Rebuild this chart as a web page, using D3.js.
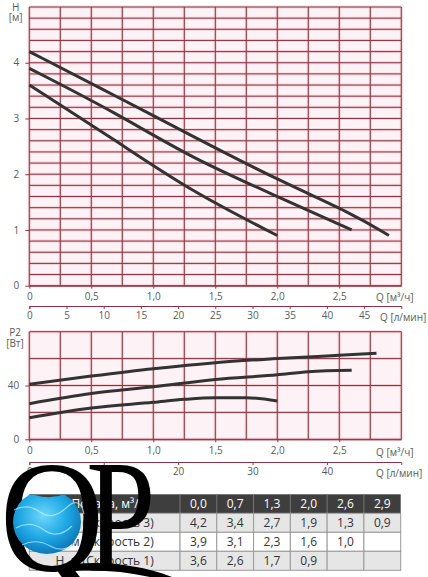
<!DOCTYPE html>
<html>
<head>
<meta charset="utf-8">
<script src="https://cdn.jsdelivr.net/npm/d3@7"></script>
<style>
  body { margin: 0; background: #fff; }
  svg { display: block; font-family: "Open Sans", sans-serif; }
</style>
</head>
<body>
<svg id="chart" width="428" height="577"></svg>
<script>
// table / head curves (m3/h -> m)
const flowTable = [0.0, 0.7, 1.3, 2.0, 2.6, 2.9];
const head3 = [4.2, 3.4, 2.7, 1.9, 1.3, 0.9];
const head2 = [3.9, 3.1, 2.3, 1.6, 1.0, null];
const head1 = [3.6, 2.6, 1.7, 0.9, null, null];
const rowLabels = ["H, м (Скорость 3)", "H, м (Скорость 2)", "H, м (Скорость 1)"];
const headerLabel = "Подача, м³/ч";

// power curves (m3/h -> W)
const powerQ3 = [0, 0.5, 1.0, 1.5, 2.0, 2.5, 2.8];
const power3  = [41, 47, 52.5, 57, 60, 62.5, 64];
const powerQ2 = [0, 0.5, 1.0, 1.5, 2.0, 2.25, 2.6];
const power2  = [26.5, 34, 39, 44.5, 48, 50.3, 51.3];
const powerQ1 = [0, 0.5, 1.0, 1.25, 1.5, 1.75, 2.0];
const power1  = [16, 23.3, 27.5, 29.7, 30.9, 30.9, 28.5];

// ticks
const qTicks = [0, 0.5, 1.0, 1.5, 2.0, 2.5];
const lminTicksTop = [0, 5, 10, 15, 20, 25, 30, 35, 40, 45];
const lminTicksBottom = [0, 10, 20, 30, 40];
const headTicks = [0, 1, 2, 3, 4];
const powerTicks = [0, 40];

const gridCol = "#863540";
const glowCol = "#f1c3cd";
const plotBg = "#fdf3f6";
const textCol = "#5a5a5a";
const curveCol = "#333";

const svg = d3.select("#chart");
const left = 29.3, right = 401.3;

const x = d3.scaleLinear().domain([0, 3]).range([left, right]);
const xl = d3.scaleLinear().domain([0, 50]).range([left, right]);
const yH = d3.scaleLinear().domain([0, 5]).range([285.7, 7]);
const yP = d3.scaleLinear().domain([0, 80]).range([439.3, 331.7]);

const fmt = d => d === 0 ? "0" : d.toFixed(1).replace(".", ",");

function grid(y, xStep, yStep) {
  const [y0, y1] = y.domain();
  const g = svg.append("g");
  g.append("rect")
    .attr("x", left).attr("y", y(y1))
    .attr("width", right - left).attr("height", y(y0) - y(y1))
    .attr("fill", plotBg);
  const xs = d3.range(0, 3 + 1e-9, xStep);
  const ys = d3.range(y0, y1 + 1e-9, yStep);
  [[glowCol, 3, 0.7], [gridCol, 1, 1]].forEach(([c, w, o]) => {
    g.selectAll(null).data(xs).join("line")
      .attr("x1", d => x(d)).attr("x2", d => x(d))
      .attr("y1", y(y0)).attr("y2", y(y1))
      .attr("stroke", c).attr("stroke-width", w).attr("opacity", o);
    g.selectAll(null).data(ys).join("line")
      .attr("x1", left).attr("x2", right)
      .attr("y1", d => y(d)).attr("y2", d => y(d))
      .attr("stroke", c).attr("stroke-width", w).attr("opacity", o);
  });
}

function styleAxis(g) {
  g.selectAll(".domain, line").attr("stroke", gridCol);
  g.selectAll("text").attr("fill", textCol).attr("font-size", 10)
    .attr("font-family", "Open Sans");
}

function label(txt, xx, yy, anchor) {
  svg.append("text").attr("x", xx).attr("y", yy)
    .attr("text-anchor", anchor || "start")
    .attr("dominant-baseline", "central")
    .attr("fill", textCol).attr("font-size", 10)
    .text(txt);
}

function curve(qs, vs, y, kind) {
  const pts = qs.map((q, i) => [q, vs[i]]).filter(p => p[1] != null);
  svg.append("path")
    .attr("d", d3.line().x(d => x(d[0])).y(d => y(d[1])).curve(kind)(pts))
    .attr("fill", "none").attr("stroke", curveCol)
    .attr("stroke-width", 3).attr("stroke-linecap", "butt");
}

// ---- head chart
grid(yH, 0.25, 0.2);

svg.append("g").attr("transform", `translate(0,${yH(0)})`)
  .call(d3.axisBottom(x).tickValues(qTicks).tickFormat(fmt).tickSize(3).tickSizeOuter(0).tickPadding(4))
  .call(styleAxis);
svg.append("g").attr("transform", `translate(${left},0)`)
  .call(d3.axisLeft(yH).tickValues(headTicks).tickFormat(d3.format("d")).tickSize(4).tickPadding(6))
  .call(g => g.select(".domain").remove())
  .call(styleAxis);
svg.append("g").attr("transform", "translate(0,306)")
  .call(d3.axisBottom(xl).tickValues(lminTicksTop).tickSize(3).tickSizeOuter(3).tickPadding(3))
  .call(styleAxis);

label("H", 15.7, 6.5, "middle");
label("[м]", 15.7, 16.7, "middle");
label("Q [м³/ч]", 376, 296.7);
label("Q [л/мин]", 380, 316.7);

curve(flowTable, head3, yH, d3.curveBasis);
curve(flowTable, head2, yH, d3.curveBasis);
curve(flowTable, head1, yH, d3.curveBasis);

// ---- power chart
grid(yP, 0.25, 20);

svg.append("g").attr("transform", `translate(0,${yP(0)})`)
  .call(d3.axisBottom(x).tickValues(qTicks).tickFormat(fmt).tickSize(3).tickSizeOuter(0).tickPadding(5))
  .call(styleAxis);
svg.append("g").attr("transform", `translate(${left},0)`)
  .call(d3.axisLeft(yP).tickValues(powerTicks).tickSize(4).tickPadding(6))
  .call(g => g.select(".domain").remove())
  .call(styleAxis);
svg.append("g").attr("transform", "translate(0,462)")
  .call(d3.axisBottom(xl).tickValues(lminTicksBottom).tickSize(3).tickSizeOuter(3).tickPadding(3))
  .call(styleAxis);

label("P2", 15, 332, "middle");
label("[Вт]", 15, 343, "middle");
label("Q [м³/ч]", 376, 451.7);
label("Q [л/мин]", 376, 473.3);

curve(powerQ3, power3, yP, d3.curveMonotoneX);
curve(powerQ2, power2, yP, d3.curveMonotoneX);
curve(powerQ1, power1, yP, d3.curveMonotoneX);

// ---- table
const tTop = 494.3, rowH = 19, firstW = 180 - left;
const cols = d3.scaleBand().domain(d3.range(flowTable.length)).range([180, 400.7]);
const rows = [head3, head2, head1];
const tbl = svg.append("g").attr("font-size", 12);

tbl.append("rect").attr("x", left).attr("y", tTop)
  .attr("width", 400.7 - left).attr("height", rowH).attr("fill", "#3e3e3e");
tbl.append("text").attr("x", left + firstW / 2 + 4).attr("y", tTop + rowH / 2)
  .attr("text-anchor", "middle").attr("dominant-baseline", "central")
  .attr("fill", "#fff").text(headerLabel);
tbl.selectAll(null).data(flowTable).join("text")
  .attr("x", (d, i) => cols(i) + cols.bandwidth() / 2).attr("y", tTop + rowH / 2)
  .attr("text-anchor", "middle").attr("dominant-baseline", "central")
  .attr("fill", "#fff").text(d => d.toFixed(1).replace(".", ","));
tbl.selectAll(null).data(d3.range(flowTable.length)).join("line")
  .attr("x1", i => cols(i)).attr("x2", i => cols(i))
  .attr("y1", tTop).attr("y2", tTop + rowH).attr("stroke", "#777");

rows.forEach((r, ri) => {
  const yy = tTop + rowH * (ri + 1);
  const bg = ri === 1 ? "#ffffff" : "#e6e6e6";
  tbl.append("rect").attr("x", left).attr("y", yy)
    .attr("width", firstW).attr("height", rowH)
    .attr("fill", bg).attr("stroke", "#9a9a9a");
  tbl.append("text").attr("x", left + firstW / 2).attr("y", yy + rowH / 2)
    .attr("text-anchor", "middle").attr("dominant-baseline", "central")
    .attr("fill", "#333").text(rowLabels[ri]);
  tbl.selectAll(null).data(r).join("rect")
    .attr("x", (d, i) => cols(i)).attr("y", yy)
    .attr("width", cols.bandwidth()).attr("height", rowH)
    .attr("fill", bg).attr("stroke", "#9a9a9a");
  tbl.selectAll(null).data(r).join("text")
    .attr("x", (d, i) => cols(i) + cols.bandwidth() / 2).attr("y", yy + rowH / 2)
    .attr("text-anchor", "middle").attr("dominant-baseline", "central")
    .attr("fill", "#333").text(d => d == null ? "" : d.toFixed(1).replace(".", ","));
});

// ---- QP logo on top
const defs = svg.append("defs");
const grad = defs.append("radialGradient").attr("id", "water")
  .attr("cx", "45%").attr("cy", "40%").attr("r", "65%");
grad.append("stop").attr("offset", "0%").attr("stop-color", "#6fd8fb");
grad.append("stop").attr("offset", "55%").attr("stop-color", "#1ea7e4");
grad.append("stop").attr("offset", "100%").attr("stop-color", "#0a6fb0");
defs.append("clipPath").attr("id", "waterClip").append("path")
  .attr("d", "M5,497 Q20,490 35,495 T65,494 T95,496 L95,577 L5,577 Z");

svg.append("text").attr("transform", "translate(0,570) scale(0.9,1)")
  .attr("font-family", "Liberation Serif").attr("font-size", 160)
  .attr("fill", "#000").text("Q");
// tail sweep of the Q
svg.append("path")
  .attr("d", "M58,566 C95,560 135,563 172,577 L150,577 C120,570 90,569 58,572 Z")
  .attr("fill", "#000");
svg.append("text").attr("transform", "translate(86,570) scale(0.78,1)")
  .attr("font-family", "Liberation Serif").attr("font-size", 160)
  .attr("fill", "#000").text("P");

// blue water inside the Q
svg.append("ellipse").attr("cx", 47).attr("cy", 522).attr("rx", 34).attr("ry", 32)
  .attr("fill", "url(#water)").attr("clip-path", "url(#waterClip)");
const ripples = svg.append("g").attr("clip-path", "url(#waterClip)")
  .attr("fill", "none").attr("stroke", "#bdf0ff").attr("stroke-width", 1.2).attr("opacity", 0.7);
ripples.append("path").attr("d", "M14,510 Q28,503 40,512 T66,508 T84,514");
ripples.append("path").attr("d", "M16,528 Q30,520 44,530 T72,526");
ripples.append("path").attr("d", "M22,545 Q36,538 50,546 T76,542");
</script>
</body>
</html>
